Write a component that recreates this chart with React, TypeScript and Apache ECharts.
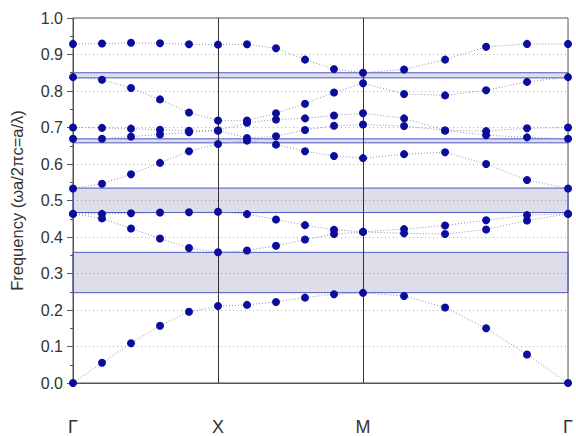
import React, { useEffect, useRef } from "react";
import * as echarts from "echarts";

// k-path positions (Γ=0, X=1, M=2, Γ=2+√2)
const kPath = [0, 0.2, 0.4, 0.6, 0.8, 1.0, 1.2, 1.4, 1.6, 1.8, 2.0, 2.283, 2.566, 2.849, 3.131, 3.414];
const kLabels = ["Γ", "X", "M", "Γ"];
const kLabelPos = [0, 1, 2, 3.414];
const yTicks = [0, 0.1, 0.2, 0.3, 0.4, 0.5, 0.6, 0.7, 0.8, 0.9, 1.0];

const band1 = [0, 0.0555, 0.109, 0.157, 0.195, 0.211, 0.214, 0.222, 0.234, 0.243, 0.247, 0.2385, 0.207, 0.15, 0.078, 0];
const band2 = [0.4634, 0.451, 0.4235, 0.396, 0.37, 0.358, 0.363, 0.376, 0.393, 0.408, 0.414, 0.41, 0.408, 0.4207, 0.445, 0.4634];
const band3 = [0.4634, 0.4634, 0.465, 0.467, 0.468, 0.469, 0.4626, 0.448, 0.4325, 0.4197, 0.414, 0.4216, 0.4317, 0.446, 0.46, 0.4634];
const band4 = [0.533, 0.546, 0.572, 0.603, 0.635, 0.655, 0.664, 0.653, 0.635, 0.622, 0.616, 0.627, 0.632, 0.6, 0.556, 0.533];
const band5 = [0.669, 0.669, 0.675, 0.681, 0.687, 0.692, 0.671, 0.676, 0.693, 0.705, 0.708, 0.704, 0.692, 0.679, 0.673, 0.669];
const band6 = [0.7, 0.699, 0.697, 0.694, 0.691, 0.692, 0.713, 0.722, 0.725, 0.733, 0.739, 0.725, 0.692, 0.69, 0.698, 0.7];
const band7 = [0.838, 0.831, 0.808, 0.777, 0.741, 0.719, 0.719, 0.739, 0.765, 0.796, 0.821, 0.792, 0.788, 0.802, 0.825, 0.838];
const band8 = [0.929, 0.93, 0.932, 0.931, 0.928, 0.927, 0.928, 0.917, 0.886, 0.86, 0.85, 0.859, 0.886, 0.921, 0.929, 0.929];
const bands = [band1, band2, band3, band4, band5, band6, band7, band8];

// band gaps [lower, upper]
const gapLow = [0.2475, 0.467, 0.658, 0.836];
const gapHigh = [0.358, 0.534, 0.669, 0.85];

export default function App() {
  const ref = useRef<HTMLDivElement>(null);
  useEffect(() => {
    if (!ref.current) return;
    const chart = echarts.init(ref.current, null, { renderer: "svg" });
    const font = "'Liberation Sans', Arial, sans-serif";
    const bandSeries = bands.map((b, i) => ({
      type: "line",
      name: "band" + (i + 1),
      data: b.map((v, j) => [kPath[j], v]),
      symbol: "circle",
      symbolSize: 8,
      showSymbol: true,
      z: 5,
      itemStyle: { color: "#0b0b9c" },
      lineStyle: { color: "#9090b8", width: 1, type: [1, 2] },
      emphasis: { disabled: true },
    }));
    chart.setOption({
      animation: false,
      backgroundColor: "#fff",
      grid: {
        left: 72.5,
        right: 4,
        top: 18,
        bottom: 51.7,
        show: true,
        borderColor: "#555",
        borderWidth: 1,
        backgroundColor: "transparent",
      },
      xAxis: {
        type: "value",
        min: 0,
        max: 3.414,
        axisLine: { show: true, lineStyle: { color: "#555", width: 1 } },
        axisTick: { show: false },
        splitLine: { show: false },
        axisLabel: {
          customValues: kLabelPos,
          formatter: (v: number) => {
            const idx = kLabelPos.findIndex((p) => Math.abs(p - v) < 1e-6);
            return idx >= 0 ? kLabels[idx] : "";
          },
          margin: 35,
          fontSize: 18,
          color: "#333",
          fontFamily: font,
          showMaxLabel: true,
          showMinLabel: true,
        },
      },
      yAxis: {
        type: "value",
        min: 0,
        max: 1,
        interval: 0.1,
        name: "Frequency (ωa/2πc=a/λ)",
        nameLocation: "middle",
        nameRotate: 90,
        nameGap: 48,
        nameTextStyle: { fontSize: 16.5, color: "#333", fontFamily: font },
        axisLine: { show: true, lineStyle: { color: "#555", width: 1 } },
        axisTick: { show: true, inside: false, length: 6, lineStyle: { color: "#555" } },
        minorTick: { show: true, splitNumber: 2, length: 3, lineStyle: { color: "#555" } },
        axisLabel: {
          formatter: (v: number) => {
            const t = yTicks.find((p) => Math.abs(p - v) < 1e-6);
            return t !== undefined ? t.toFixed(1) : "";
          },
          margin: 10,
          fontSize: 16,
          color: "#333",
          fontFamily: font,
        },
        splitLine: { show: true, lineStyle: { color: "#b4b4a8", width: 1, type: [1, 3] } },
      },
      series: [
        {
          type: "line",
          name: "gaps",
          data: [],
          z: 1,
          silent: true,
          markArea: {
            silent: true,
            itemStyle: {
              color: "rgba(90,90,150,0.2)",
              borderColor: "#4e58c0",
              borderWidth: 1,
            },
            label: { show: false },
            data: gapLow.map((lo, i) => [{ yAxis: lo }, { yAxis: gapHigh[i] }]),
          },
          markLine: {
            silent: true,
            symbol: ["none", "none"],
            label: { show: false },
            lineStyle: { color: "#333", width: 1, type: "solid" },
            data: [{ xAxis: kLabelPos[1] }, { xAxis: kLabelPos[2] }],
          },
        },
        ...bandSeries,
      ],
    });
    return () => chart.dispose();
  }, []);
  return (
    <div
      ref={ref}
      style={{ position: "fixed", left: 0, top: 0, width: 576, height: 436 }}
    />
  );
}
